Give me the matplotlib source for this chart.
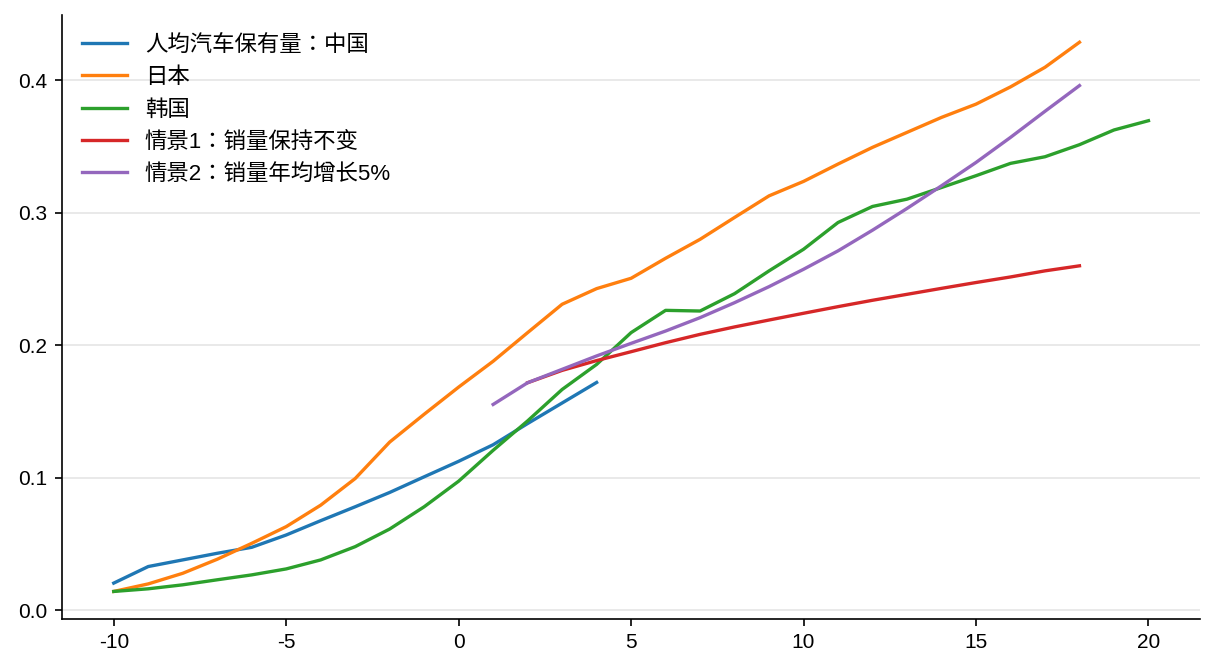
import matplotlib
matplotlib.use("Agg")
import matplotlib.pyplot as plt

plt.rcParams['font.family'] = ['Liberation Sans', 'Noto Sans CJK JP', 'DejaVu Sans']
plt.rcParams['axes.unicode_minus'] = False

x_china = list(range(-10, 5))
china = [0.0206, 0.0331, 0.0381, 0.0431, 0.0476, 0.0569, 0.0677, 0.0782, 0.0890,
         0.1008, 0.1125, 0.1250, 0.1410, 0.1565, 0.1720]

x_japan = list(range(-10, 19))
japan = [0.0143, 0.0200, 0.0280, 0.0386, 0.0506, 0.0632, 0.0794, 0.0995, 0.1270,
         0.1480, 0.1685, 0.1880, 0.2096, 0.2310, 0.2428, 0.2506, 0.2657, 0.2800,
         0.2965, 0.3128, 0.3237, 0.3368, 0.3494, 0.3607, 0.3720, 0.3820, 0.3950,
         0.4098, 0.4287]

x_korea = list(range(-10, 21))
korea = [0.0143, 0.0163, 0.0193, 0.0231, 0.0268, 0.0313, 0.0381, 0.0481, 0.0614,
         0.0782, 0.0975, 0.1208, 0.1430, 0.1667, 0.1856, 0.2096, 0.2264, 0.2259,
         0.2390, 0.2562, 0.2725, 0.2927, 0.3048, 0.3103, 0.3191, 0.3280, 0.3373,
         0.3423, 0.3514, 0.3625, 0.3695]

x_s1 = list(range(2, 19))
s1 = [0.1718, 0.1811, 0.1885, 0.1952, 0.2020, 0.2083, 0.2139, 0.2191, 0.2242,
      0.2292, 0.2340, 0.2385, 0.2430, 0.2474, 0.2516, 0.2562, 0.2600]

x_s2 = list(range(1, 19))
s2 = [0.1554, 0.1718, 0.1819, 0.1920, 0.2015, 0.2108, 0.2209, 0.2322, 0.2443,
      0.2574, 0.2713, 0.2869, 0.3033, 0.3204, 0.3380, 0.3569, 0.3766, 0.3960]

labels = ['人均汽车保有量：中国', '日本', '韩国', '情景1：销量保持不变', '情景2：销量年均增长5%']
colors = ['#1f77b4', '#ff7f0e', '#2ca02c', '#d62728', '#9467bd']

fig = plt.figure(figsize=(1216 / 150, 672 / 150), dpi=150)
ax = fig.add_subplot(111)
fig.subplots_adjust(left=0.051, right=0.987, bottom=0.079, top=0.978)

series = [(x_china, china), (x_japan, japan), (x_korea, korea), (x_s1, s1), (x_s2, s2)]
for (xs, ys), lab, c in zip(series, labels, colors):
    ax.plot(xs, ys, color=c, lw=1.6, label=lab)

ax.grid(axis='y', color='#e5e5e5', lw=0.8)
ax.set_axisbelow(True)
ax.spines['top'].set_visible(False)
ax.spines['right'].set_visible(False)
ax.set_xticks([-10, -5, 0, 5, 10, 15, 20])
ax.set_yticks([0.0, 0.1, 0.2, 0.3, 0.4])
ax.legend(loc='upper left', frameon=False, fontsize=10.75)

fig.savefig('out.png', dpi=150)
